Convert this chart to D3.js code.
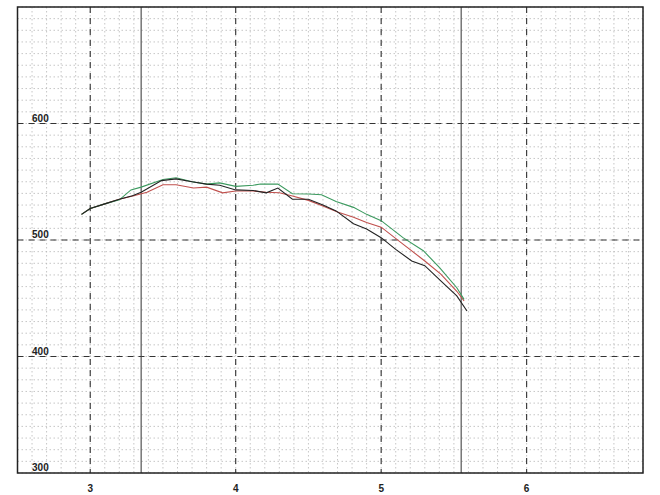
<!DOCTYPE html>
<html><head><meta charset="utf-8">
<script src="https://cdn.jsdelivr.net/npm/d3@7"></script>
<style>html,body{margin:0;padding:0;background:#fff;}svg{display:block;}</style>
</head><body>
<svg id="c" width="660" height="495"></svg>
<script>
// Data (x in thousands rpm, y values)
const xTicks = [3, 4, 5, 6];
const xTickLabels = ["3", "4", "5", "6"];
const yTicks = [300, 400, 500, 600];
const yTickLabels = ["300", "400", "500", "600"];
const markerLines = [3.35, 5.55];

const blackX = [2.94,3.0,3.1,3.2,3.29,3.35,3.49,3.59,3.70,3.80,3.89,4.0,4.12,4.21,4.29,4.39,4.50,4.60,4.69,4.81,4.90,5.0,5.10,5.21,5.30,5.41,5.52,5.59];
const blackY = [522,527,531,535,538,541,551,552.5,550,548,547,543,542.5,540.5,544.6,535,535,530,525,514,509.5,502,492,482,478,465,452,439];
const redX = [2.94,3.0,3.1,3.2,3.3,3.39,3.50,3.59,3.71,3.80,3.91,4.0,4.12,4.21,4.30,4.39,4.50,4.59,4.70,4.81,4.90,5.0,5.15,5.30,5.41,5.52,5.57];
const redY = [522,527,531,535,538,541,547.4,547.4,544.6,545.4,540.5,542,542,541,540.5,537.7,534,529.6,524,519.5,515,511,496.5,482,470.7,456,447.7];
const greenX = [2.94,3.0,3.1,3.2,3.28,3.35,3.50,3.59,3.70,3.80,3.89,4.0,4.12,4.17,4.29,4.39,4.50,4.59,4.69,4.81,4.90,5.0,5.15,5.29,5.40,5.52,5.57];
const greenY = [522,527,531,534.5,543,545.4,552,553.4,550,548,549,546,547,548,548,539.7,539.5,538.8,533,528,522,516.6,502,490.8,476.5,459,449];

const series = [
  {name:"red", xs:redX, ys:redY, color:"#c0504d"},
  {name:"green", xs:greenX, ys:greenY, color:"#3c9a5f"},
  {name:"black", xs:blackX, ys:blackY, color:"#222"}
];

const L = 17.5, R = 643, T = 7, B = 473;
const x = d3.scaleLinear().domain([2.5, 6.8]).range([L, R]);
const y = d3.scaleLinear().domain([300, 700]).range([B, T]);

const svg = d3.select("#c");
const g = svg.append("g");

// minor grid
const minorX = d3.range(25, 69).map(v => v / 10);
const minorY = d3.range(30, 71).map(v => v * 10);
g.append("g").selectAll("line").data(minorX).join("line")
  .attr("x1", d => x(d)).attr("x2", d => x(d)).attr("y1", T).attr("y2", B)
  .attr("stroke", "#b8b8b8").attr("stroke-width", 0.8).attr("stroke-dasharray", "1.5,2.5");
g.append("g").selectAll("line").data(minorY).join("line")
  .attr("x1", L).attr("x2", R).attr("y1", d => y(d)).attr("y2", d => y(d))
  .attr("stroke", "#b8b8b8").attr("stroke-width", 0.8).attr("stroke-dasharray", "1.5,2.5");

// major dashed grid
g.append("g").selectAll("line").data(xTicks).join("line")
  .attr("x1", d => x(d)).attr("x2", d => x(d)).attr("y1", T).attr("y2", B)
  .attr("stroke", "#333").attr("stroke-width", 1.1).attr("stroke-dasharray", "6,5");
g.append("g").selectAll("line").data(yTicks.filter(v => v > 300)).join("line")
  .attr("x1", L).attr("x2", R).attr("y1", d => y(d)).attr("y2", d => y(d))
  .attr("stroke", "#333").attr("stroke-width", 1.1).attr("stroke-dasharray", "6,5");

// solid marker lines
g.append("g").selectAll("line").data(markerLines).join("line")
  .attr("x1", d => x(d)).attr("x2", d => x(d)).attr("y1", T).attr("y2", B)
  .attr("stroke", "#444").attr("stroke-width", 1.1);

// border
g.append("rect").attr("x", L).attr("y", T).attr("width", R - L).attr("height", B - T)
  .attr("fill", "none").attr("stroke", "#222").attr("stroke-width", 1.5);

// y labels
g.append("g").selectAll("text").data(yTicks).join("text")
  .attr("x", x(2.6)).attr("y", d => y(d) - 2)
  .attr("font-family", "Liberation Sans Narrow, Arial Narrow, sans-serif")
  .attr("font-weight", "bold").attr("font-size", 10).attr("fill", "#222")
  .text((d, i) => yTickLabels[i]);

// x labels
g.append("g").selectAll("text").data(xTicks).join("text")
  .attr("x", d => x(d)).attr("y", 492).attr("text-anchor", "middle")
  .attr("font-family", "Liberation Sans Narrow, Arial Narrow, sans-serif")
  .attr("font-weight", "bold").attr("font-size", 10).attr("fill", "#222")
  .text((d, i) => xTickLabels[i]);

// curves
const line = d3.line().x(d => x(d[0])).y(d => y(d[1]));
series.forEach(s => {
  const pts = s.xs.map((v, i) => [v, s.ys[i]]);
  g.append("path").datum(pts).attr("d", line)
    .attr("fill", "none").attr("stroke", s.color).attr("stroke-width", 1.1);
});
</script>
</body></html>
